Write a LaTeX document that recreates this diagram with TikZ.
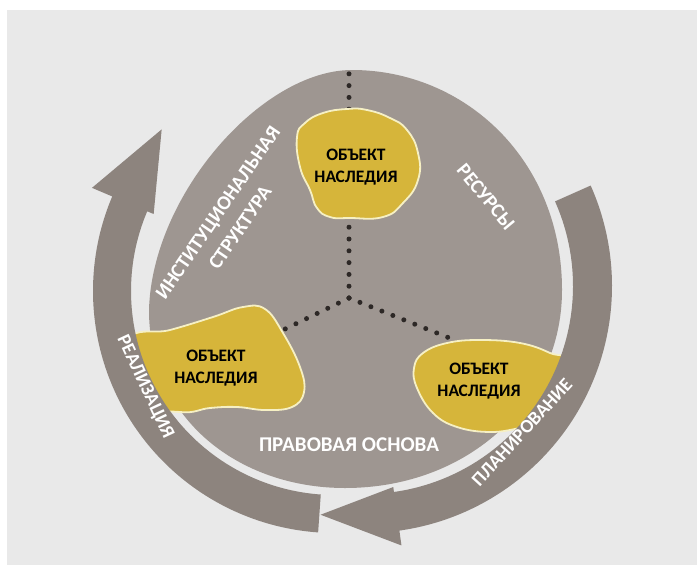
\documentclass[tikz,border=0pt]{standalone}
\usepackage{fontspec}
\setmainfont{Carlito}
\usetikzlibrary{calc}
\definecolor{bgc}{RGB}{233,233,233}
\definecolor{ovalc}{RGB}{158,150,145}
\definecolor{arrc}{RGB}{141,132,126}
\definecolor{blobc}{RGB}{214,181,58}
\definecolor{blobline}{RGB}{246,240,196}
\definecolor{dotc}{RGB}{45,40,38}
\begin{document}
\begin{tikzpicture}[x=1pt,y=-1pt,
  blob/.style={fill=blobc, draw=blobline, line width=1.8pt},
  dotline/.style={dotc, line width=5pt, line cap=round, dash pattern=on 0pt off 11.8pt},
  objtext/.style={font=\fontsize{17.5}{22}\selectfont\bfseries, align=center, text=black, inner sep=0pt},
  wlabel/.style={font=\fontsize{20}{27}\selectfont\bfseries, text=white, align=center, inner sep=0pt},
  blabel/.style={font=\fontsize{19}{22}\selectfont\bfseries, text=white, inner sep=0pt}]
\useasboundingbox (0,0) rectangle (698,565);
\fill[bgc] (7,10) rectangle (697,565);
% oval
\fill[ovalc] (352,70) .. controls (465,70) and (562,160) .. (562,290)
  .. controls (562,400) and (470,488) .. (345,488)
  .. controls (240,488) and (149,420) .. (149,310)
  .. controls (152,195) and (262,70) .. (352,70) -- cycle;
% dotted connectors
\coordinate (hub) at (349,298);
\coordinate (dtop) at (349,73);
\coordinate (dleft) at (283,330);
\coordinate (dright) at (452,339);
\draw[dotline] (hub) -- (dtop);
\draw[dotline] (hub) -- (dleft);
\draw[dotline] (hub) -- (dright);
% blobs
\draw[blob] plot[smooth cycle, tension=0.8] coordinates {(297,137) (305,123) (323,113) (347,109) (367,110) (390,118) (407,130) (418,153) (418,180) (403,203) (383,217) (350,218) (330,217) (317,208) (310,190) (300,167)};
\draw[blob] plot[smooth cycle, tension=0.7] coordinates {(170,330) (213,317) (243,307) (265,309) (283,333) (300,367) (304,392) (292,407) (265,410) (237,407) (210,408) (180,412) (130,400) (128,340)};
\draw[blob] plot[smooth cycle, tension=0.7] coordinates {(423,353) (447,343) (480,340) (520,343) (550,353) (568,365) (545,422) (520,428) (490,432) (457,427) (433,413) (417,388) (414,368)};
% arrows
\coordinate (L) at (335,291);
\coordinate (R) at (365,286);
\fill[arrc] ($(L)+(94:204)$) arc[start angle=94, end angle=203, radius=204]
  -- ($(L)+(203:197)$) -- ($(L)+(223:237)$) -- ($(L)+(203:264)$)
  -- ($(L)+(203:242)$) arc[start angle=203, end angle=94, radius=242] -- cycle;
\fill[arrc] ($(R)+(-24:208)$) arc[start angle=-24, end angle=82, radius=208]
  -- ($(R)+(82:203)$) -- ($(R)+(101:233)$) -- ($(R)+(82:262)$)
  -- ($(R)+(82:247)$) arc[start angle=82, end angle=-24, radius=247] -- cycle;
% texts
\node[objtext] (o1) at (356,167) {ОБЪЕКТ\\НАСЛЕДИЯ};
\node[objtext] (o2) at (216,368) {ОБЪЕКТ\\НАСЛЕДИЯ};
\node[objtext] (o3) at (479,381) {ОБЪЕКТ\\НАСЛЕДИЯ};
\node[wlabel, rotate=55.6] (inst) at (229,220) {ИНСТИТУЦИОНАЛЬНАЯ\\СТРУКТУРА};
\node[wlabel, rotate=-50.4] (res) at (486,197) {РЕСУРСЫ};
\node[wlabel, font=\fontsize{21}{27}\selectfont\bfseries] (law) at (349,445) {ПРАВОВАЯ ОСНОВА};
\node[blabel, rotate=47.4] (plan) at (522,432) {ПЛАНИРОВАНИЕ};
\node[blabel, rotate=-65] (real) at (145,387) {РЕАЛИЗАЦИЯ};
\end{tikzpicture}
\end{document}
